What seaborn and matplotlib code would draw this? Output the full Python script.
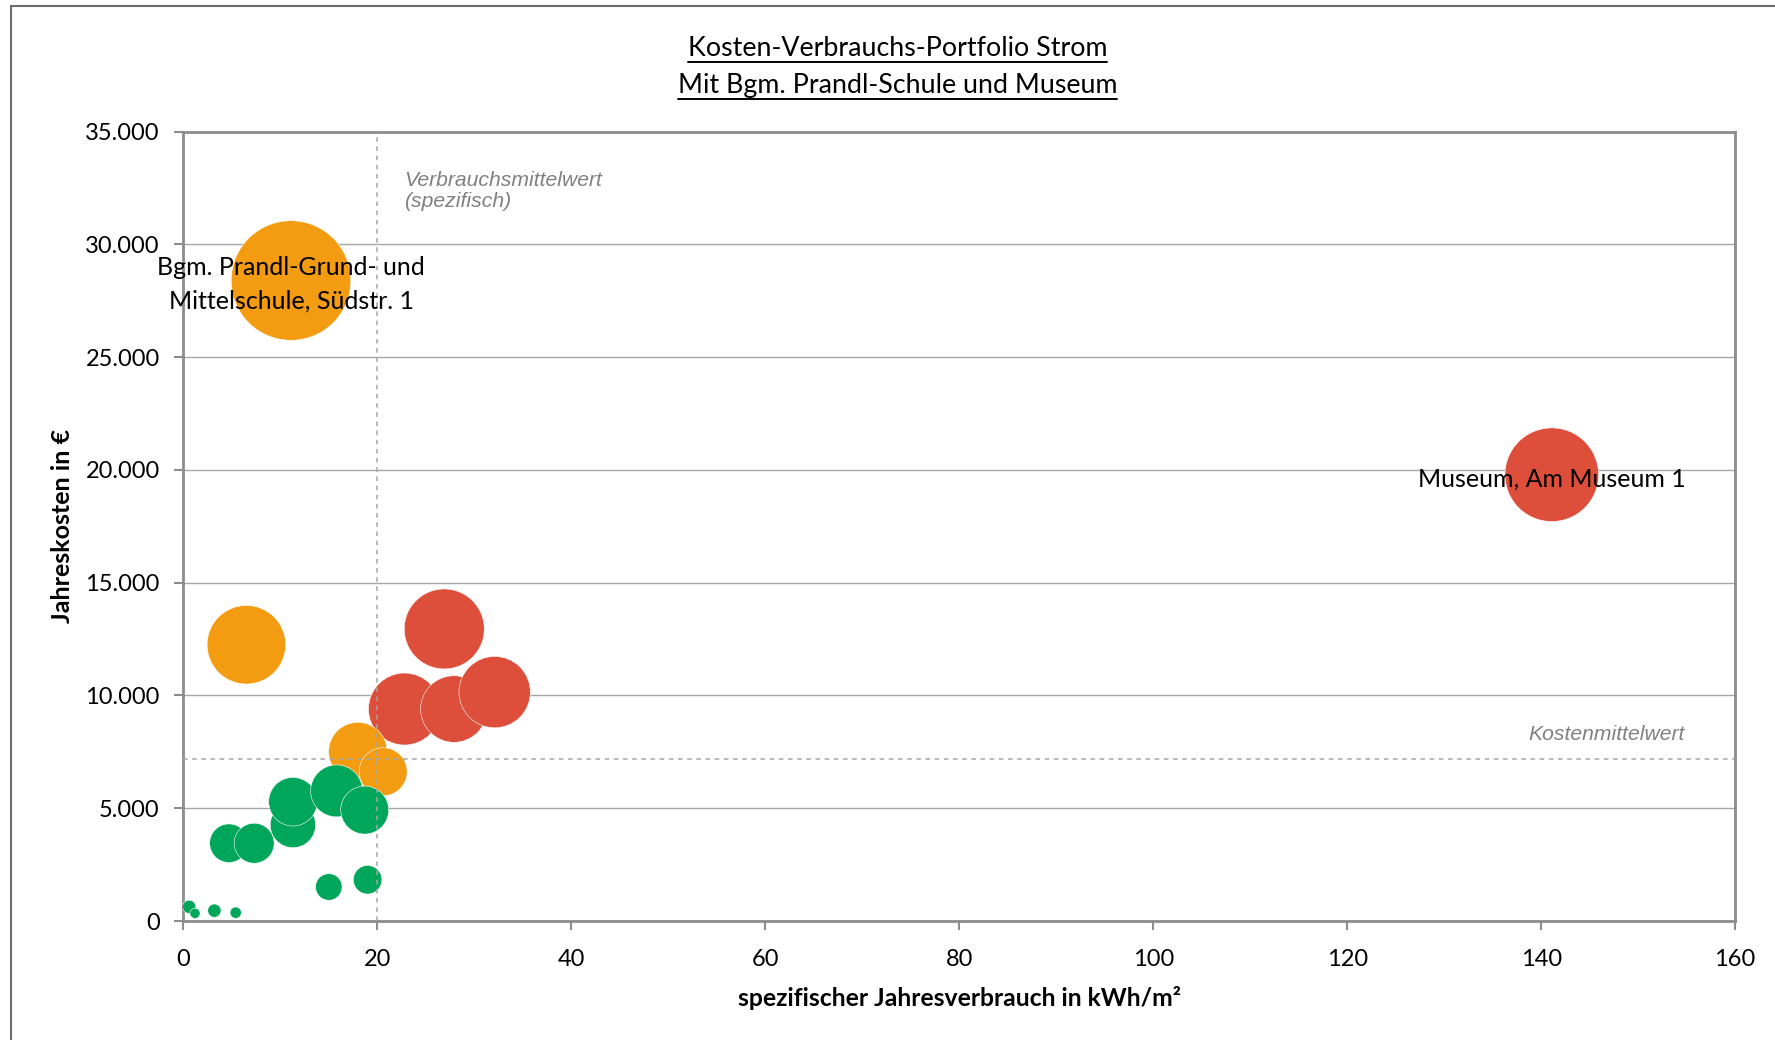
import numpy as np
import pandas as pd
import matplotlib
matplotlib.use("Agg")
import matplotlib.pyplot as plt
import seaborn as sns
from matplotlib.ticker import FuncFormatter, MultipleLocator
from matplotlib.lines import Line2D
from matplotlib.patches import Rectangle

# ---------------- data ----------------
kategorie = (["gruen"] * 12) + (["orange"] * 4) + (["rot"] * 5)
verbrauch = [0.6, 1.2, 3.2, 5.4, 15.0, 19.0, 4.7, 7.3, 11.3, 11.3, 15.8, 18.7,
             18.0, 20.6, 6.5, 11.1,
             26.9, 22.8, 27.9, 32.1, 141.1]
kosten = [630, 340, 460, 370, 1510, 1830, 3450, 3450, 4260, 5290, 5770, 4920,
          7510, 6620, 12250, 28400,
          12950, 9400, 9400, 10150, 19790]
jahresverbrauch_mwh = [2.2, 1.3, 2.2, 1.6, 8.8, 10.2, 18.6, 20.0, 25.8, 29.5, 33.8, 28.8,
                       42.9, 28.8, 77.2, 178.8,
                       80.0, 64.8, 55.4, 63.7, 109.5]
beschriftung = [""] * 15 + ["Bgm. Prandl-Grund- und\nMittelschule, Südstr. 1"] + [""] * 4 + ["Museum, Am Museum 1"]

verbrauchsmittelwert = 20.0
kostenmittelwert = 7170

titel_zeilen = ["Kosten-Verbrauchs-Portfolio Strom", "Mit Bgm. Prandl-Schule und Museum"]
x_label = "spezifischer Jahresverbrauch in kWh/m²"
y_label = "Jahreskosten in €"

farben = {"gruen": "#00A65A", "orange": "#F39C12", "rot": "#DD4E3B"}

# ---------------- figure ----------------
sns.set_theme(style="white")
plt.rcParams["font.family"] = ["Lato", "DejaVu Sans"]

fig = plt.figure(figsize=(17.75, 10.4), dpi=100)
fig.patch.set_facecolor("white")
ax = fig.add_axes([0.1033, 0.1144, 0.8742, 0.7590])

df = pd.DataFrame({"kategorie": kategorie, "verbrauch": verbrauch, "kosten": kosten,
                   "mwh": jahresverbrauch_mwh, "label": beschriftung})
reihenfolge = {"rot": 0, "orange": 1, "gruen": 2}
df_plot = df.sort_values("kategorie", key=lambda s: s.map(reihenfolge), kind="stable")

vmax = 200.0
sns.scatterplot(data=df_plot, x="verbrauch", y="kosten", hue="kategorie", palette=farben,
                size="mwh", sizes=(0, 41.47 * vmax), size_norm=(0, vmax),
                legend=False, ax=ax, edgecolor="white", linewidth=0.4, alpha=1, zorder=3)

ax.set_xlim(0, 160)
ax.set_ylim(0, 35000)
ax.xaxis.set_major_locator(MultipleLocator(20))
ax.yaxis.set_major_locator(MultipleLocator(5000))
ax.yaxis.set_major_formatter(FuncFormatter(lambda v, _: f"{int(round(v)):,}".replace(",", ".")))

ax.yaxis.grid(True, color="#a6a6a6", lw=1.0)
ax.xaxis.grid(False)
ax.set_axisbelow(True)

for s in ax.spines.values():
    s.set_color("#8c8c8c")
    s.set_linewidth(2.0)
    s.set_visible(True)

ax.tick_params(axis="both", direction="out", length=6.5, width=1.5, color="#8c8c8c",
               labelsize=17, labelcolor="black")
ax.tick_params(axis="x", pad=14, bottom=True, top=False)
ax.tick_params(axis="y", pad=10.5, left=True, right=False)

# mean lines
ax.axvline(verbrauchsmittelwert, color="#a6a6a6", lw=1.1, ls=(0, (3, 3)), zorder=4)
ax.axhline(kostenmittelwert, color="#a6a6a6", lw=1.1, ls=(0, (3, 3)), zorder=4)

ax.text(verbrauchsmittelwert + 2.8, 33250, "Verbrauchsmittelwert\n(spezifisch)",
        family=["Liberation Sans", "DejaVu Sans"], style="italic", color="#808080",
        fontsize=15.2, ha="left", va="top", linespacing=1.15, zorder=5)
ax.text(154.8, 8250, "Kostenmittelwert",
        family=["Liberation Sans", "DejaVu Sans"], style="italic", color="#808080",
        fontsize=15.2, ha="right", va="center", zorder=5)

# bubble labels
for _, r in df[df["label"] != ""].iterrows():
    ax.annotate(r["label"], xy=(r["verbrauch"], r["kosten"]), xytext=(0, -3),
                textcoords="offset points", ha="center", va="center",
                multialignment="center", fontsize=18, color="black", linespacing=1.55, zorder=6)

# axis labels
ax.set_xlabel(x_label, fontsize=17.8, fontweight="bold", color="black")
ax.xaxis.label.set_va("center")
ax.xaxis.set_label_coords(0.5, -0.097)
ax.set_ylabel(y_label, fontsize=18, fontweight="bold", color="black")
ax.yaxis.label.set_va("center")
ax.yaxis.set_label_coords(-0.078, 0.5)

# title with underline
fig.canvas.draw()
renderer = fig.canvas.get_renderer()
for zeile, yc in zip(titel_zeilen, [1 - 48.5 / 1040, 1 - 85 / 1040]):
    t = fig.text(897.7 / 1775, yc, zeile, ha="center", va="center", fontsize=19.3, color="black")
    bb = t.get_window_extent(renderer=renderer)
    x0, x1 = bb.x0 / fig.bbox.width, bb.x1 / fig.bbox.width
    yl = (bb.y0 - 1) / fig.bbox.height
    fig.add_artist(Line2D([x0, x1], [yl, yl], transform=fig.transFigure, color="black", lw=1.4))

# outer chart border (cropped at right/bottom)
fig.add_artist(Rectangle((11.3 / 1775, -0.1), 1.2, 0.1 + 1 - 5.7 / 1040,
                         transform=fig.transFigure, fill=False, edgecolor="#6d6d6d", lw=1.5))

fig.savefig("out.png", dpi=100, facecolor="white")
